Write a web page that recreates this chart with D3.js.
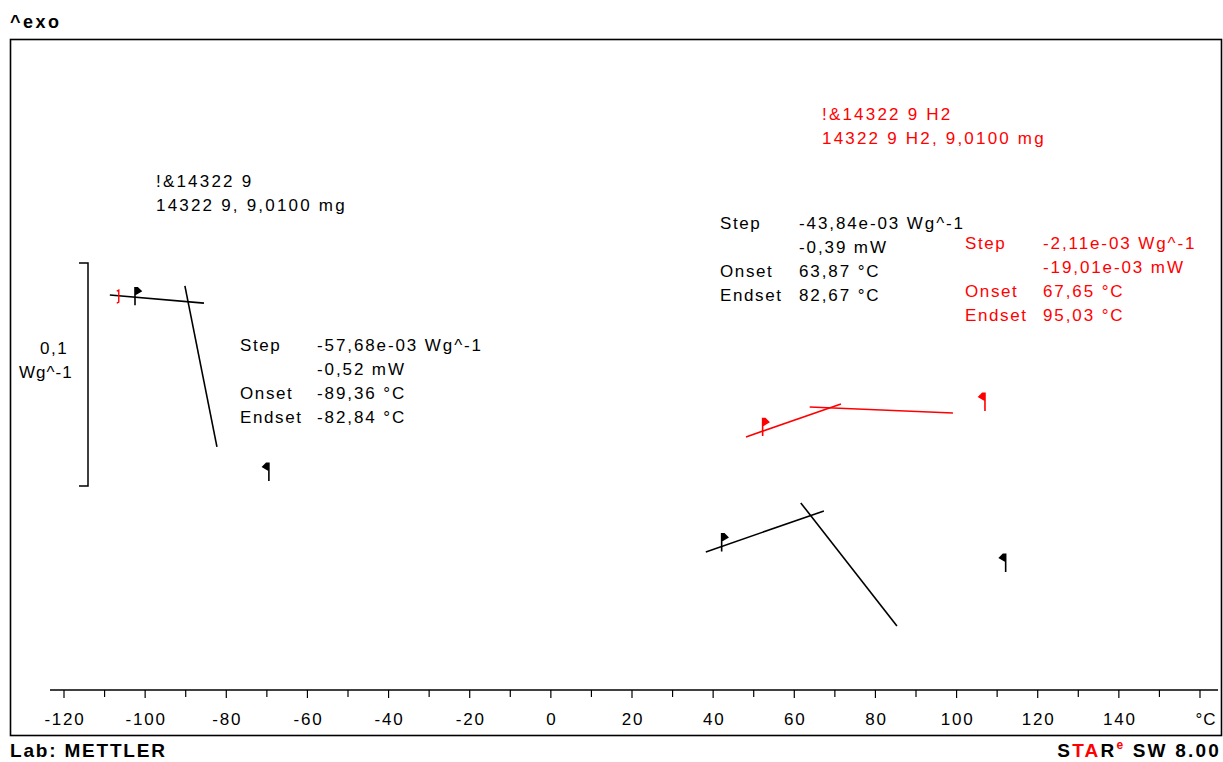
<!DOCTYPE html>
<html>
<head>
<meta charset="utf-8">
<script src="https://cdn.jsdelivr.net/npm/d3@7"></script>
<style>
  html, body { margin: 0; padding: 0; background: #fff; }
  svg { display: block; font-family: "Liberation Sans", Arial, sans-serif; }
</style>
</head>
<body>
<svg id="chart" width="1223" height="762"></svg>
<script>
// Temperature axis (°C) ticks
const tickValues = d3.range(-120, 161, 10);
const tickLabels = [-120, -100, -80, -60, -40, -20, 0, 20, 40, 60, 80, 100, 120, 140];
const unitLabel = "°C";

// Curve names
const blackCurve = ["!&14322 9", "14322 9, 9,0100 mg"];
const redCurve = ["!&14322 9 H2", "14322 9 H2, 9,0100 mg"];

// Tangent lines of each glass-transition evaluation: [°C, Wg^-1]
const blackLeftTangents = [
  [[-108.7, 0.1771], [-85.5, 0.1735]],
  [[-90.2, 0.1812], [-82.3, 0.1090]]
];
const blackRightTangents = [
  [[38.2, 0.0619], [67.3, 0.0803]],
  [[61.6, 0.0839], [85.3, 0.0287]]
];
const redTangents = [
  [[48.1, 0.1135], [71.5, 0.1283]],
  [[63.8, 0.1269], [99.1, 0.1242]]
];

// Evaluation limit flags: [°C, Wg^-1, direction]
const blackFlags = [
  [-102.5, 0.1748, "start"], [-69.5, 0.0960, "end"],
  [42.1, 0.0644, "start"], [112.1, 0.0552, "end"]
];
const redFlags = [
  [52.2, 0.1161, "start"], [107.0, 0.1274, "end"]
];
const redMarker = [-106.5, 0.1762];

// Evaluation results
const resultNames = ["Step", "", "Onset", "Endset"];
const blackLeftResults = ["-57,68e-03 Wg^-1", "-0,52 mW", "-89,36 °C", "-82,84 °C"];
const blackRightResults = ["-43,84e-03 Wg^-1", "-0,39 mW", "63,87 °C", "82,67 °C"];
const redResults = ["-2,11e-03 Wg^-1", "-19,01e-03 mW", "67,65 °C", "95,03 °C"];

// Scale bar: 0,1 Wg^-1
const scaleBar = [0.0915, 0.1915];

const RED = "#ff0000";
const svg = d3.select("#chart");

const x = d3.scaleLinear().domain([-120, 160]).range([64, 1200]);
const y = d3.scaleLinear().domain([0, 0.3]).range([690, 21]);

// frame
svg.append("rect").attr("x", 10.5).attr("y", 39.5).attr("width", 1211).attr("height", 696)
  .attr("fill", "none").attr("stroke", "#000").attr("stroke-width", 1.6);

// header / footer
svg.append("text").attr("x", 10).attr("y", 28).attr("font-size", 18).attr("font-weight", "bold")
  .attr("letter-spacing", 2.5).text("^exo");
svg.append("text").attr("x", 10).attr("y", 757).attr("font-size", 19).attr("font-weight", "bold")
  .attr("letter-spacing", 1.8).text("Lab: METTLER");
const star = svg.append("text").attr("x", 1221).attr("y", 757).attr("font-size", 19)
  .attr("font-weight", "bold").attr("text-anchor", "end").attr("letter-spacing", 2.2);
star.append("tspan").text("S");
star.append("tspan").attr("fill", RED).text("TA");
star.append("tspan").text("R");
star.append("tspan").attr("fill", RED).attr("font-size", 12).attr("dy", -8).text("e");
star.append("tspan").attr("dy", 8).text(" SW 8.00");

// x axis
const axisY = 690;
const axisG = svg.append("g").attr("transform", `translate(0,${axisY})`);
axisG.append("line").attr("x1", 50).attr("x2", 1218).attr("stroke", "#000").attr("stroke-width", 1.6);
axisG.selectAll("line.tick").data(tickValues).join("line").attr("class", "tick")
  .attr("x1", d => x(d)).attr("x2", d => x(d)).attr("y1", 0)
  .attr("y2", d => d % 20 === 0 ? 8 : 7).attr("stroke", "#000").attr("stroke-width", 1.2);
axisG.selectAll("text.lbl").data(tickLabels).join("text").attr("class", "lbl")
  .attr("x", d => x(d) + 1).attr("y", 35).attr("text-anchor", "middle").attr("font-size", 17)
  .attr("letter-spacing", 1.8).text(d => d);
axisG.append("text").attr("x", x(160) + 6).attr("y", 35).attr("text-anchor", "middle")
  .attr("font-size", 17).attr("letter-spacing", 1).text(unitLabel);

// scale bar
const sb = d3.path();
sb.moveTo(79, y(scaleBar[1])); sb.lineTo(88, y(scaleBar[1]));
sb.lineTo(88, y(scaleBar[0])); sb.lineTo(79, y(scaleBar[0]));
svg.append("path").attr("d", sb.toString()).attr("fill", "none").attr("stroke", "#000").attr("stroke-width", 1.5);
svg.append("text").attr("x", 40).attr("y", 354).attr("font-size", 17).attr("letter-spacing", 1.5).text("0,1");
svg.append("text").attr("x", 19).attr("y", 378).attr("font-size", 17).attr("letter-spacing", 1).text("Wg^-1");

// tangents
const line = d3.line().x(d => x(d[0])).y(d => y(d[1]));
function drawTangents(data, color) {
  svg.append("g").selectAll("path").data(data).join("path")
    .attr("d", line).attr("fill", "none").attr("stroke", color).attr("stroke-width", 1.6);
}
drawTangents(blackLeftTangents, "#000");
drawTangents(blackRightTangents, "#000");
drawTangents(redTangents, RED);

// flags
function flagPath(d) {
  const px = x(d[0]), py = y(d[1]);
  const s = d[2] === "start" ? 1 : -1;
  return `M${px},${py + 5}L${px},${py - 12}` +
    `M${px},${py - 12.5}L${px + s * 2.5},${py - 12.5}L${px + s * 6},${py - 9}L${px},${py - 5.5}Z`;
}
function drawFlags(data, color) {
  const g = svg.append("g");
  g.selectAll("path").data(data).join("path").attr("d", flagPath)
    .attr("fill", color).attr("stroke", color).attr("stroke-width", 1.6);
}
drawFlags(blackFlags, "#000");
drawFlags(redFlags, RED);

// small red marker at the start of the left evaluation
{
  const px = x(redMarker[0]), py = y(redMarker[1]);
  svg.append("path")
    .attr("d", `M${px - 2},${py - 6}L${px},${py - 7}L${px},${py + 5}L${px - 2},${py + 6}`)
    .attr("fill", "none").attr("stroke", RED).attr("stroke-width", 1.4);
}

// text blocks
function lines(lx, ly, arr, color, spacing) {
  const t = svg.append("g").attr("fill", color).attr("font-size", 17).attr("letter-spacing", spacing);
  t.selectAll("text").data(arr).join("text")
    .attr("x", lx).attr("y", (d, i) => ly + i * 24).text(d => d);
}
lines(156, 187, blackCurve, "#000", 2.2);
lines(822, 120, redCurve, RED, 2.2);

function results(lx, vx, ly, vals, color) {
  lines(lx, ly, resultNames, color, 1.6);
  lines(vx, ly, vals, color, 1.9);
}
results(240, 317, 351, blackLeftResults, "#000");
results(720, 799, 229, blackRightResults, "#000");
results(965, 1043, 249, redResults, RED);
</script>
</body>
</html>
